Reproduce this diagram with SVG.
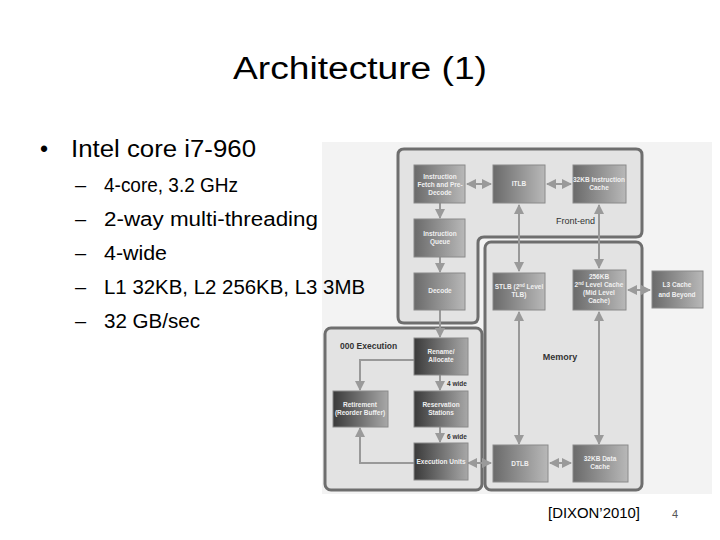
<svg xmlns="http://www.w3.org/2000/svg" width="720" height="540" viewBox="0 0 720 540">
<defs>
<linearGradient id="g1" x1="0" y1="0" x2="1" y2="0"><stop offset="0" stop-color="#6a6a6a"/><stop offset="1" stop-color="#b8b8b8"/></linearGradient>
<linearGradient id="g2" x1="0" y1="0" x2="1" y2="0"><stop offset="0" stop-color="#3a3a3a"/><stop offset="1" stop-color="#a8a8a8"/></linearGradient>
<marker id="ah" viewBox="0 0 10 10" refX="9" refY="5" markerWidth="5" markerHeight="5" orient="auto-start-reverse"><path d="M0,0 L10,5 L0,10 z" fill="#9a9a9a"/></marker>
<style>
.t{font-family:"Liberation Sans",Arial,sans-serif;}
.bx{stroke:#8a8a8a;stroke-width:1;}
.bt{font-family:"Liberation Sans",Arial,sans-serif;font-size:6.5px;font-weight:bold;fill:#f0f0f0;text-anchor:middle;}
.reg{fill:#e3e3e3;stroke:#6e6e6e;stroke-width:3;}
.c{fill:none;stroke:#999;stroke-width:2;}
.lab{font-family:"Liberation Sans",Arial,sans-serif;font-weight:bold;fill:#333;}
</style>
</defs>
<rect width="720" height="540" fill="#fff"/>
<rect x="322" y="142" width="390" height="352" fill="#f3f3f3"/>
<g id="frontend">
<path class="reg" d="M404,149 H636 Q642,149 642,155 V231 Q642,237 636,237 H484 Q478,237 478,243 V317 Q478,323 472,323 H404 Q398,323 398,317 V155 Q398,149 404,149 Z"/>
<text class="t" x="556" y="224" font-size="9" fill="#333">Front-end</text>
</g>
<g id="memory">
<rect class="reg" x="485" y="242" width="157" height="248" rx="6"/>
<text class="lab" x="560" y="360" font-size="9" text-anchor="middle">Memory</text>
</g>
<g id="ooo">
<rect class="reg" x="325" y="328" width="157" height="162" rx="6"/>
<text class="lab" x="340" y="349" font-size="8.5">000 Execution</text>
</g>
<g id="connectors">
<line class="c" x1="467" y1="184" x2="491" y2="184" marker-start="url(#ah)" marker-end="url(#ah)"/>
<line class="c" x1="547" y1="184" x2="571" y2="184" marker-start="url(#ah)" marker-end="url(#ah)"/>
<line class="c" x1="440" y1="203" x2="440" y2="218" marker-end="url(#ah)"/>
<line class="c" x1="440" y1="257" x2="440" y2="272" marker-end="url(#ah)"/>
<line class="c" x1="440" y1="310" x2="440" y2="337" marker-end="url(#ah)"/>
<line class="c" x1="519" y1="205" x2="519" y2="271" marker-start="url(#ah)" marker-end="url(#ah)"/>
<line class="c" x1="599" y1="205" x2="599" y2="268" marker-start="url(#ah)" marker-end="url(#ah)"/>
<line class="c" x1="628" y1="290" x2="650" y2="290" marker-start="url(#ah)" marker-end="url(#ah)"/>
<line class="c" x1="519" y1="312" x2="519" y2="444" marker-start="url(#ah)" marker-end="url(#ah)"/>
<line class="c" x1="599" y1="312" x2="599" y2="444" marker-start="url(#ah)" marker-end="url(#ah)"/>
<polyline class="c" points="414,360 360,360 360,390" marker-end="url(#ah)"/>
<line class="c" x1="440" y1="375" x2="440" y2="390" marker-end="url(#ah)"/>
<line class="c" x1="440" y1="427" x2="440" y2="442" marker-end="url(#ah)"/>
<polyline class="c" points="414,463 360,463 360,428" marker-end="url(#ah)"/>
<line class="c" x1="468" y1="463" x2="491" y2="463" marker-start="url(#ah)" marker-end="url(#ah)"/>
<line class="c" x1="550" y1="463" x2="571" y2="463" marker-start="url(#ah)" marker-end="url(#ah)"/>
<text class="lab" x="447" y="386" font-size="6.5">4 wide</text>
<text class="lab" x="447" y="439" font-size="6.5">6 wide</text>
</g>
<g id="fetch"><rect class="bx" x="414" y="165" width="51" height="38" fill="url(#g1)"/><text class="bt" x="440" y="179">Instruction</text><text class="bt" x="440" y="187">Fetch and Pre-</text><text class="bt" x="440" y="195">Decode</text></g>
<g id="itlb"><rect class="bx" x="493" y="165" width="52" height="38" fill="url(#g1)"/><text class="bt" x="519" y="186">ITLB</text></g>
<g id="icache"><rect class="bx" x="573" y="165" width="53" height="38" fill="url(#g1)"/><text class="bt" x="599" y="182">32KB Instruction</text><text class="bt" x="599" y="190">Cache</text></g>
<g id="queue"><rect class="bx" x="414" y="219" width="51" height="38" fill="url(#g1)"/><text class="bt" x="440" y="236">Instruction</text><text class="bt" x="440" y="244">Queue</text></g>
<g id="decode"><rect class="bx" x="414" y="273" width="51" height="37" fill="url(#g1)"/><text class="bt" x="440" y="293">Decode</text></g>
<g id="stlb"><rect class="bx" x="493" y="273" width="52" height="37" fill="url(#g1)"/><text class="bt" x="519" y="289">STLB (2<tspan font-size="4.5" dy="-2">nd</tspan><tspan dy="2"> Level</tspan></text><text class="bt" x="519" y="297">TLB)</text></g>
<g id="l2"><rect class="bx" x="573" y="270" width="53" height="40" fill="url(#g1)"/><text class="bt" x="599" y="279">256KB</text><text class="bt" x="599" y="287">2<tspan font-size="4.5" dy="-2">nd</tspan><tspan dy="2"> Level Cache</tspan></text><text class="bt" x="599" y="295">(Mid Level</text><text class="bt" x="599" y="303">Cache)</text></g>
<g id="l3"><rect class="bx" x="652" y="271" width="51" height="37" fill="url(#g1)"/><text class="bt" x="677" y="287" font-size="7.5">L3 Cache</text><text class="bt" x="677" y="297" font-size="7.5">and Beyond</text></g>
<g id="rename"><rect class="bx" x="414" y="338" width="54" height="37" fill="url(#g2)"/><text class="bt" x="441" y="354">Rename/</text><text class="bt" x="441" y="362">Allocate</text></g>
<g id="retire"><rect class="bx" x="333" y="391" width="55" height="36" fill="url(#g2)"/><text class="bt" x="360" y="407">Retirement</text><text class="bt" x="360" y="415">(Reorder Buffer)</text></g>
<g id="rs"><rect class="bx" x="414" y="391" width="54" height="36" fill="url(#g2)"/><text class="bt" x="441" y="407">Reservation</text><text class="bt" x="441" y="415">Stations</text></g>
<g id="exec"><rect class="bx" x="414" y="443" width="54" height="37" fill="url(#g2)"/><text class="bt" x="441" y="464">Execution Units</text></g>
<g id="dtlb"><rect class="bx" x="493" y="445" width="55" height="37" fill="url(#g1)"/><text class="bt" x="520" y="466">DTLB</text></g>
<g id="dcache"><rect class="bx" x="573" y="445" width="55" height="37" fill="url(#g1)"/><text class="bt" x="600" y="469">Cache</text><text class="bt" x="600" y="461">32KB Data</text></g>
<g class="t" fill="#000">
<text x="233" y="79" font-size="31" textLength="254" lengthAdjust="spacingAndGlyphs">Architecture (1)</text>
<text x="40" y="157" font-size="23">•</text>
<text x="71" y="157" font-size="23" textLength="185" lengthAdjust="spacingAndGlyphs">Intel core i7-960</text>
<g font-size="20">
<text x="75" y="192">–</text><text x="104" y="192" textLength="134" lengthAdjust="spacingAndGlyphs">4-core, 3.2 GHz</text>
<text x="75" y="226">–</text><text x="104" y="226" textLength="214" lengthAdjust="spacingAndGlyphs">2-way multi-threading</text>
<text x="75" y="260">–</text><text x="104" y="260" textLength="63" lengthAdjust="spacingAndGlyphs">4-wide</text>
<text x="75" y="294">–</text><text x="104" y="294" textLength="261" lengthAdjust="spacingAndGlyphs">L1 32KB, L2 256KB, L3 3MB</text>
<text x="75" y="328">–</text><text x="104" y="328" textLength="96" lengthAdjust="spacingAndGlyphs">32 GB/sec</text>
</g>
<text x="548" y="518" font-size="15" textLength="92" lengthAdjust="spacingAndGlyphs">[DIXON’2010]</text>
<text x="672" y="518" font-size="11" fill="#555">4</text>
</g>
</svg>
